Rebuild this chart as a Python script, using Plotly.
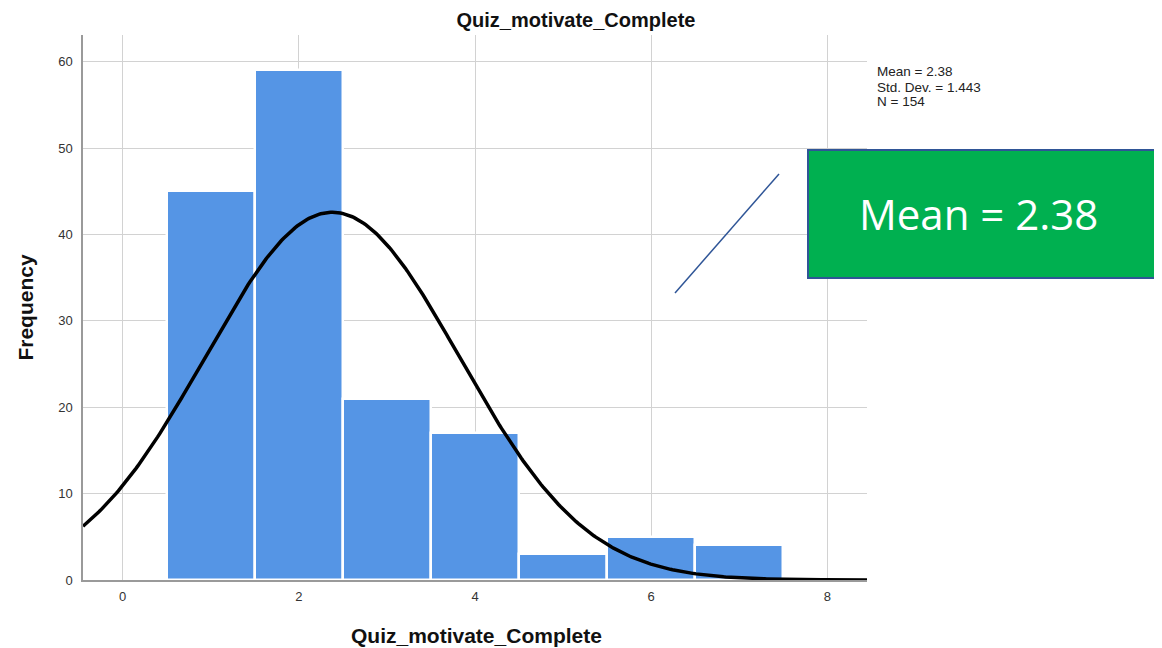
import numpy as np
import plotly.graph_objects as go

# Data
bin_centers = [1, 2, 3, 4, 5, 6, 7]
frequencies = [45, 59, 21, 17, 3, 5, 4]
mean_val = 2.38
std_val = 1.443
n_val = 154
x_ticks = [0, 2, 4, 6, 8]
y_ticks = [0, 10, 20, 30, 40, 50, 60]
stats_lines = [f"Mean = {mean_val:.2f}", f"Std. Dev. = {std_val:.3f}", f"N = {n_val}"]
x_title = "Quiz_motivate_Complete"

x_range = [-0.45, 8.45]
y_range = [0, 63.1]

curve_x = np.linspace(x_range[0], x_range[1], 400)
curve_y = n_val * np.exp(-0.5 * ((curve_x - mean_val) / std_val) ** 2) / (std_val * np.sqrt(2 * np.pi))

# page has an 8px body margin -> figure drawn at (8, 8)
OFF = 8
W, H = 1162 - OFF, 648 - OFF
PL, PR, PT, PB = 83, 867, 35, 580  # plot area in screen pixels
pw, ph = PR - PL, PB - PT


def px(sx):
    return (sx - PL) / pw


def py(sy):
    return (PB - sy) / ph


fig = go.Figure()
fig.add_trace(go.Bar(
    x=bin_centers, y=frequencies, width=1.0,
    marker=dict(color="#5595E5", line=dict(color="white", width=2.5)),
    hoverinfo="x+y", showlegend=False,
))
fig.add_trace(go.Scatter(
    x=curve_x, y=curve_y, mode="lines",
    line=dict(color="black", width=3.5), showlegend=False, hoverinfo="skip",
))

fig.update_layout(
    width=W, height=H,
    margin=dict(l=PL - OFF, r=W - (PR - OFF), t=PT - OFF, b=H - (PB - OFF), autoexpand=False),
    paper_bgcolor="white", plot_bgcolor="white",
    font=dict(family="Liberation Sans, Arial, sans-serif", color="#222"),
    title=dict(text="<b>Quiz_motivate_Complete</b>", x=(576 - OFF) / W, xanchor="center",
               y=1 - (20 - OFF) / H, yanchor="middle", font=dict(size=20, color="#111")),
    bargap=0,
)
fig.update_xaxes(
    range=x_range, tickvals=x_ticks, showgrid=True, gridcolor="#D2D2D2", gridwidth=1,
    zeroline=False, showline=True, linecolor="#9A9A9A", linewidth=1.5, automargin=False,
    ticks="", tickfont=dict(size=13, color="#333"), ticklabelstandoff=4,
)
fig.update_yaxes(
    range=y_range, tickvals=y_ticks, showgrid=True, gridcolor="#D2D2D2", gridwidth=1,
    zeroline=False, showline=True, linecolor="#9A9A9A", linewidth=1.5, automargin=False,
    ticks="", tickfont=dict(size=13, color="#333"), ticklabelstandoff=6,
    title=dict(text="<b>Frequency</b>", font=dict(size=21, color="#111"), standoff=19),
)

# x-axis title
fig.add_annotation(
    xref="paper", yref="paper", x=px(476), y=py(635), xanchor="center", yanchor="middle",
    showarrow=False, text=f"<b>{x_title}</b>", font=dict(size=21, color="#111"),
)

# Stats text (one line each for tight spacing)
for i, line in enumerate(stats_lines):
    fig.add_annotation(
        xref="paper", yref="paper", x=px(875), y=py(72 + 15 * i), xanchor="left", yanchor="middle",
        align="left", showarrow=False, text=line,
        font=dict(size=13.5, color="#222"),
    )

# Callout line and green box
fig.add_shape(type="line", xref="paper", yref="paper",
              x0=px(675), y0=py(293), x1=px(779), y1=py(174),
              line=dict(color="#2F5597", width=1.5))
fig.add_shape(type="rect", xref="paper", yref="paper",
              x0=px(808), y0=py(278), x1=px(1157), y1=py(150),
              fillcolor="#00B050", line=dict(color="#2F5597", width=2))
fig.add_annotation(
    xref="paper", yref="paper", x=px(978), y=py(214), xanchor="center", yanchor="middle",
    showarrow=False, text=f"Mean = {mean_val:.2f}",
    font=dict(size=42, color="white", family="Open Sans, sans-serif"),
)

fig.write_html("out.html")
